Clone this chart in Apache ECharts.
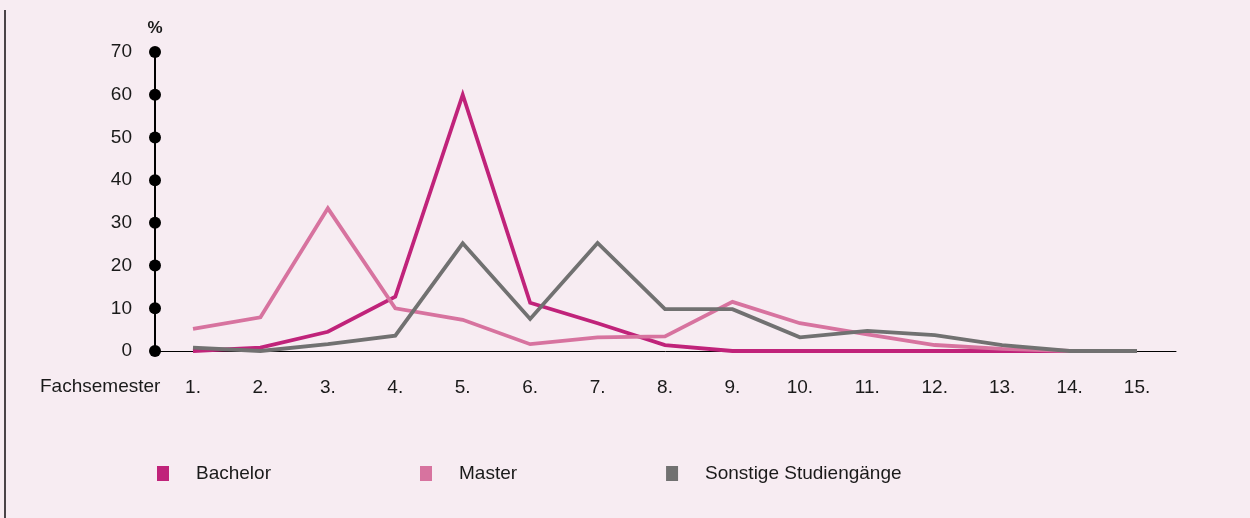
<!DOCTYPE html>
<html>
<head>
<meta charset="utf-8">
<script src="https://cdn.jsdelivr.net/npm/echarts@6/dist/echarts.min.js"></script>
<style>
html,body{margin:0;padding:0;background:#f7ecf2;}
#chart{width:1250px;height:518px;}
</style>
</head>
<body>
<div id="chart"></div>
<script>
const semesters = [1,2,3,4,5,6,7,8,9,10,11,12,13,14,15];
const bachelor = [0, 0.8, 4.5, 12.7, 60, 11.3, 6.5, 1.4, 0, 0, 0, 0, 0, 0, 0];
const master = [5.2, 7.9, 33.4, 10.0, 7.3, 1.6, 3.2, 3.4, 11.5, 6.5, 3.9, 1.4, 0.5, 0, 0];
const sonstige = [0.8, 0, 1.6, 3.6, 25.2, 7.5, 25.3, 9.8, 9.8, 3.2, 4.7, 3.7, 1.4, 0, 0];
const yTicks = [0,10,20,30,40,50,60,70];
const seriesNames = ['Bachelor','Master','Sonstige Studiengänge'];
const colors = ['#c0237a','#d7739f','#717171'];

const xMin = 0.4365, xMax = 15.578;
const font = 'Liberation Sans';

function pairs(arr){ return arr.map((v,i)=>[semesters[i], v]); }

const chart = echarts.init(document.getElementById('chart'));
const lineSeries = [bachelor, master, sonstige].map((arr,i)=>({
  name: seriesNames[i],
  type: 'line',
  data: pairs(arr),
  symbol: 'none',
  lineStyle: {width: 3.8, color: colors[i], join: 'miter'},
  itemStyle: {color: colors[i]},
  z: 3
}));

chart.setOption({
  backgroundColor: '#f7ecf2',
  animation: false,
  textStyle: {fontFamily: font},
  grid: {left: 155, right: 74, top: 52, bottom: 167, containLabel: false},
  legend: {
    data: seriesNames,
    left: 157,
    top: 464,
    padding: 0,
    icon: 'rect',
    itemWidth: 12,
    itemHeight: 15,
    itemGap: 149,
    textStyle: {fontSize: 19, color: '#1a1a1a', fontFamily: font, padding: [0,0,0,22]}
  },
  xAxis: {
    type: 'value',
    min: xMin,
    max: xMax,
    splitLine: {show: false},
    axisLine: {show: true, onZero: false, lineStyle: {color: '#000', width: 1}},
    axisTick: {show: false},
    axisLabel: {
      customValues: semesters,
      formatter: v => v + '.',
      fontSize: 19,
      color: '#1a1a1a',
      margin: 27
    }
  },
  yAxis: {
    type: 'value',
    min: 0,
    max: 70,
    interval: 10,
    name: '%',
    nameLocation: 'end',
    nameGap: 15,
    nameTextStyle: {fontSize: 17, fontWeight: 'bold', color: '#1a1a1a', align: 'center'},
    splitLine: {show: false},
    axisLine: {show: true, lineStyle: {color: '#000', width: 2}},
    axisTick: {show: false},
    axisLabel: {fontSize: 19, color: '#1a1a1a', margin: 23}
  },
  graphic: [
    {type: 'line', shape: {x1: 5, y1: 10, x2: 5, y2: 518}, style: {stroke: '#4a4448', lineWidth: 2}},
    {type: 'text', left: 40, top: 377, style: {text: 'Fachsemester', fontSize: 19, fontFamily: font, fill: '#1a1a1a'}}
  ],
  series: [
    ...lineSeries,
    {
      type: 'scatter',
      data: yTicks.map(t => [xMin, t]),
      symbol: 'circle',
      symbolSize: 12,
      itemStyle: {color: '#000', opacity: 1},
      z: 5,
      silent: true
    }
  ]
});
</script>
</body>
</html>
